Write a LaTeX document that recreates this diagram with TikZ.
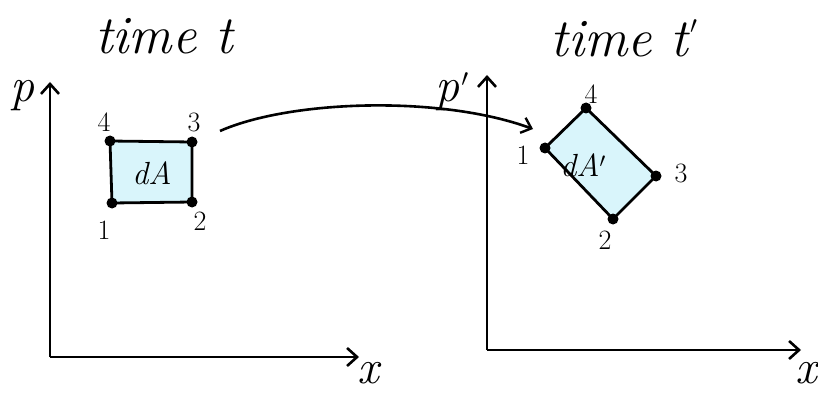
\documentclass[tikz,border=0pt]{standalone}
\usepackage{fontspec}
\usetikzlibrary{arrows.meta}
\definecolor{areafill}{HTML}{D9F5FB}
\newcommand{\hiprime}[1]{\kern2pt\raisebox{#1}{$'$}}
\begin{document}
\begin{tikzpicture}[x=1pt,y=-1pt,
  axis/.style={line width=2.8pt, -{Straight Barb[length=10pt,width=18pt,line width=2.6pt]}},
  patch/.style={draw, line width=2.8pt, fill=areafill, line join=round},
  corner/.style={circle, fill=black, inner sep=0pt, minimum size=11pt},
  num/.style={font=\fontsize{28}{32}\selectfont},
  title/.style={font=\itshape\fontsize{54}{58}\selectfont},
  axlabel/.style={font=\itshape\fontsize{48}{52}\selectfont},
  arealabel/.style={font=\itshape\fontsize{32}{36}\selectfont}]
\useasboundingbox (0,0) rectangle (818,398);
% left axes
\coordinate (o1) at (50,357);
\coordinate (py1) at (50,82);
\coordinate (px1) at (359,357);
\draw[axis] (o1) -- (py1);
\draw[axis] (o1) -- (px1);
\node[axlabel] (plab) at (22,96) {p};
\node[axlabel] (xlab) at (368,373) {x};
\node[title] (t1) at (164,36) {time t};
% left patch
\coordinate (a1) at (112,203);
\coordinate (a2) at (192,202);
\coordinate (a3) at (192,142);
\coordinate (a4) at (110,141);
\draw[patch] (a1) -- (a2) -- (a3) -- (a4) -- cycle;
\foreach \c in {a1,a2,a3,a4} \node[corner] at (\c) {};
\node[num] (n4) at (104,122) {4};
\node[num] (n3) at (194,122) {3};
\node[num] (n1) at (104,230) {1};
\node[num] (n2) at (200,221) {2};
\node[arealabel] (dA) at (152,173) {dA};
% right axes
\coordinate (o2) at (487,350);
\coordinate (py2) at (487,75);
\coordinate (px2) at (801,350);
\draw[axis] (o2) -- (py2);
\draw[axis] (o2) -- (px2);
\node[axlabel] (plab2) at (452,92) {p\hiprime{6pt}};
\node[axlabel] (xlab2) at (806,373) {x};
\node[title] (t2) at (624,38) {time t\hiprime{14pt}};
% right patch
\coordinate (b1) at (545,148);
\coordinate (b2) at (613,219);
\coordinate (b3) at (656,176);
\coordinate (b4) at (586,108);
\draw[patch] (b1) -- (b2) -- (b3) -- (b4) -- cycle;
\foreach \c in {b1,b2,b3,b4} \node[corner] at (\c) {};
\node[num] (m4) at (591,94) {4};
\node[num] (m1) at (523,155) {1};
\node[num] (m3) at (681,173) {3};
\node[num] (m2) at (605,240) {2};
\node[arealabel] (dA2) at (583,165) {dA$'$};
% mapping arrow
\coordinate (s) at (220,131);
\coordinate (e) at (533,129);
\draw[line width=2.6pt, -{Straight Barb[length=9pt,width=16pt,line width=2.4pt]}]
  (s) .. controls (290,100) and (440,95) .. (e);
\end{tikzpicture}
\end{document}
